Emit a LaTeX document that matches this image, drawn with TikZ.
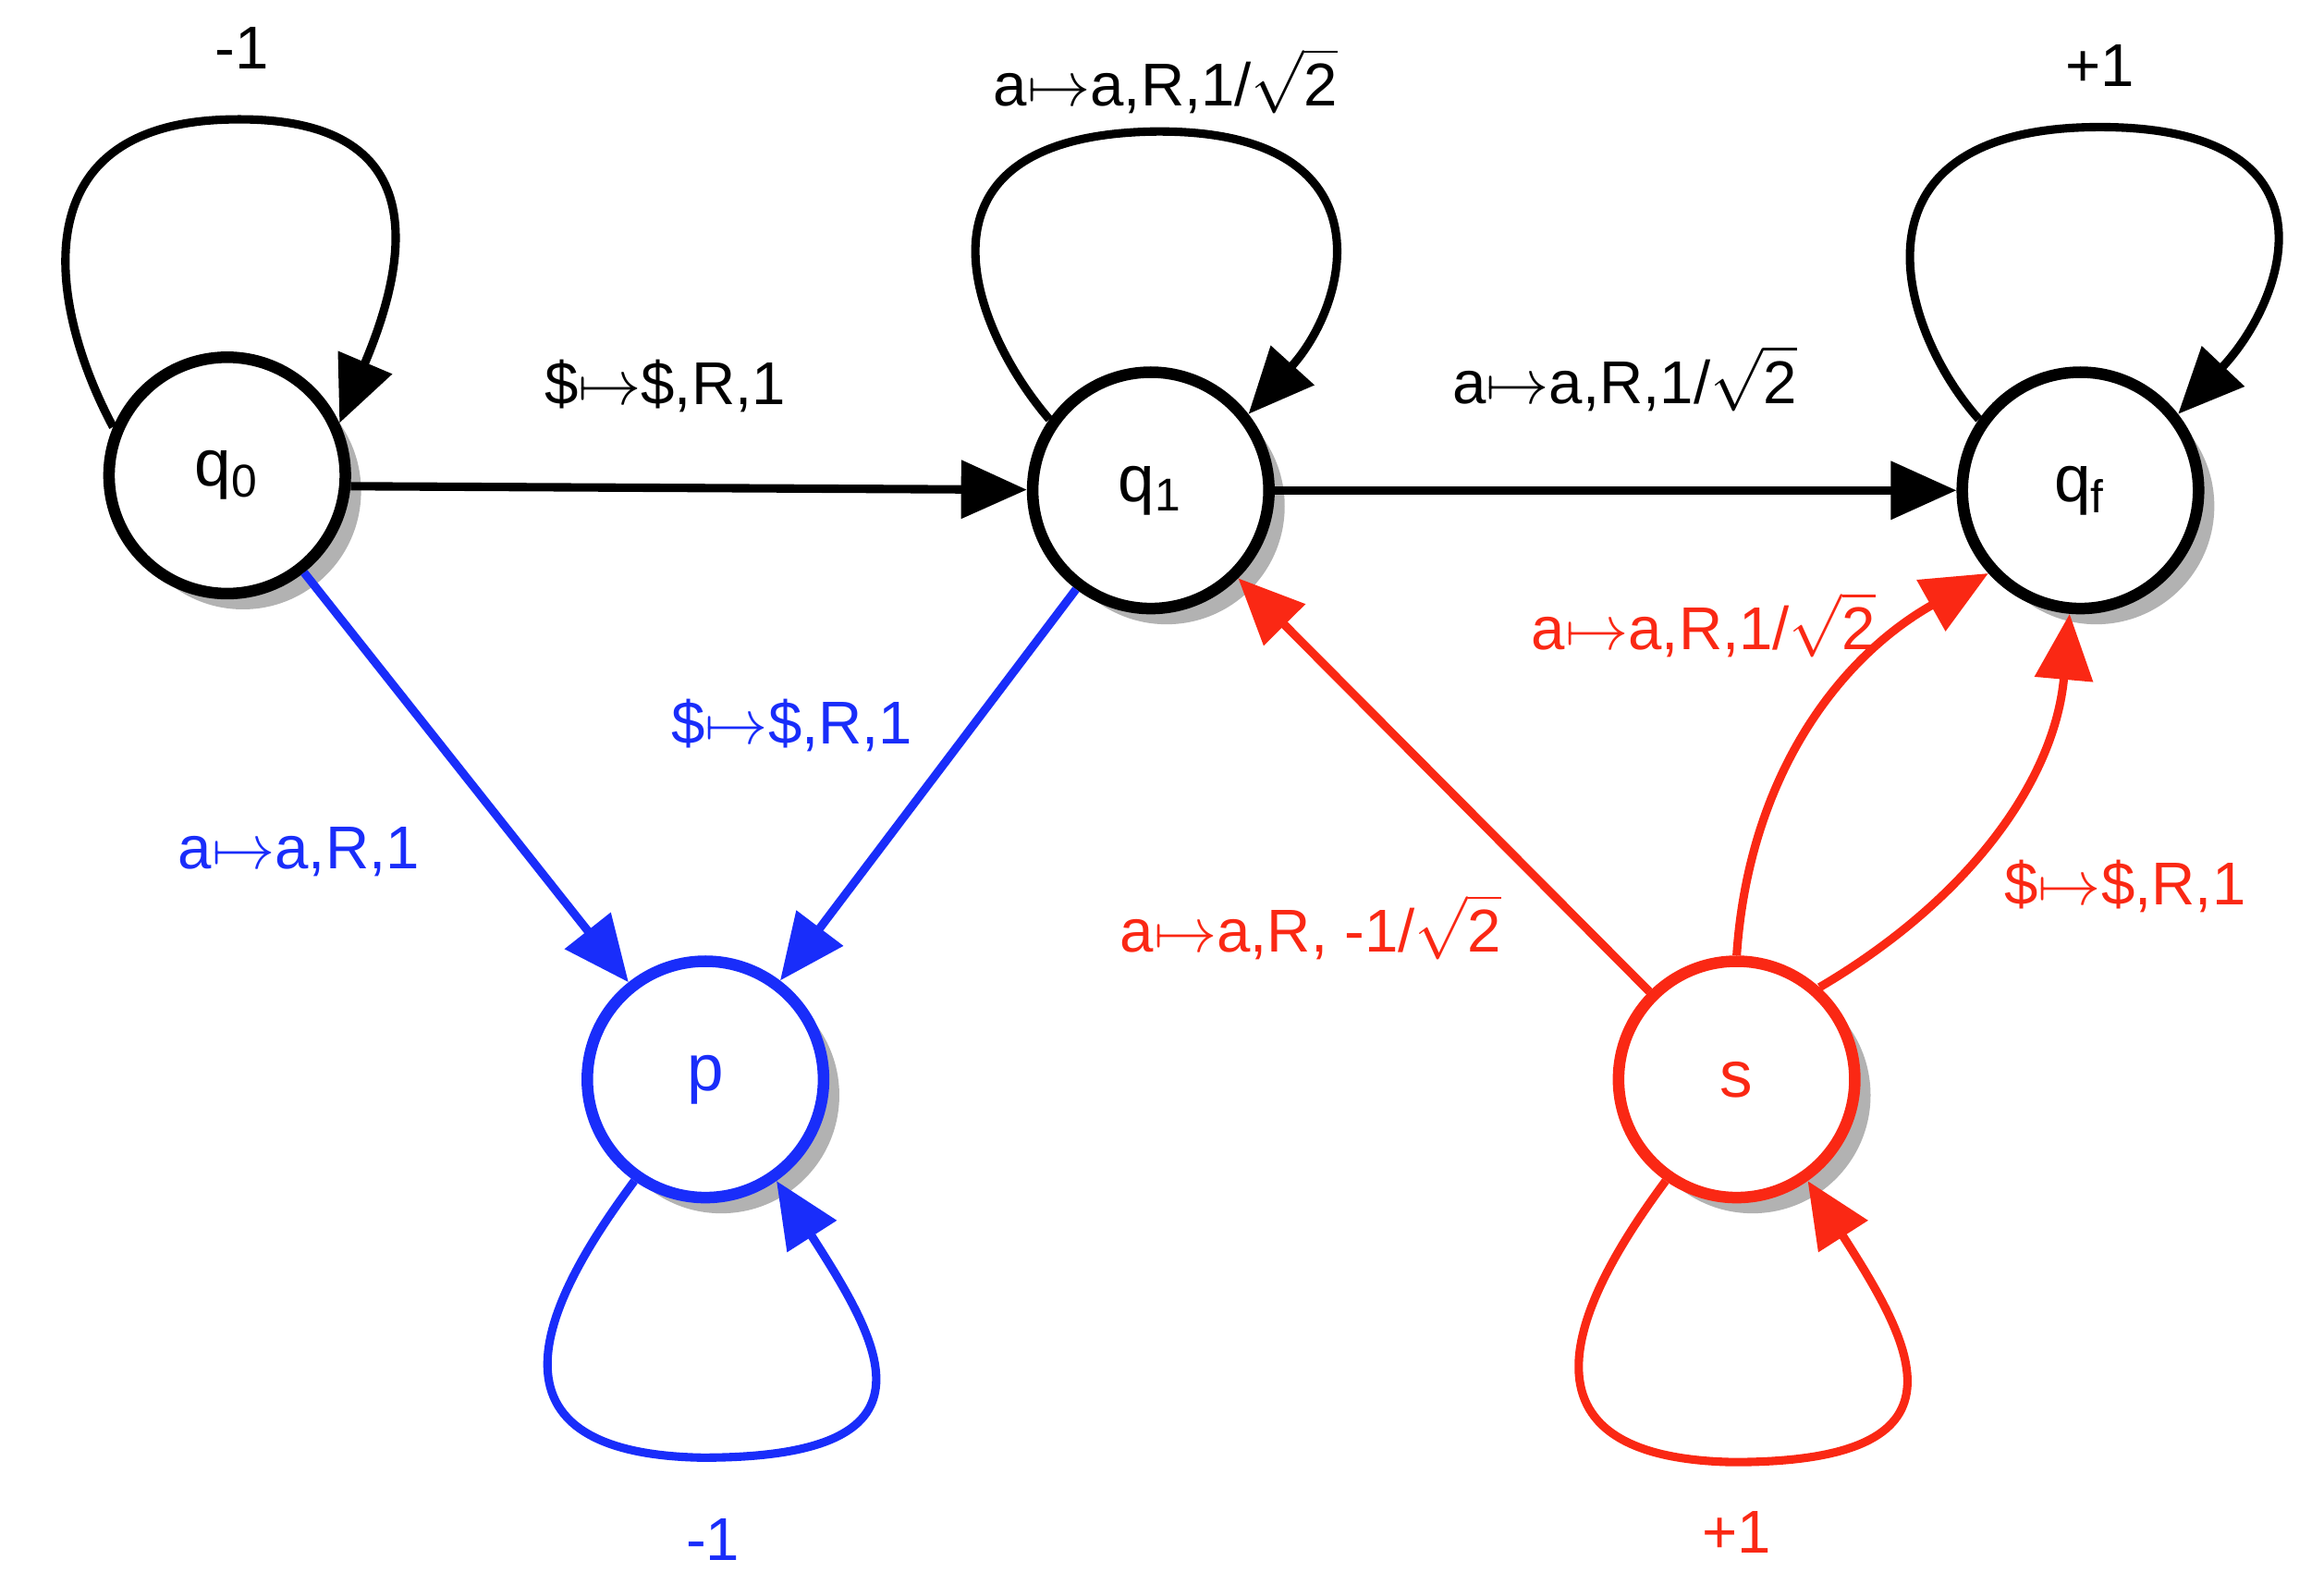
\documentclass[tikz,border=0pt]{standalone}
\usepackage{fontspec}
\setmainfont{Liberation Sans}
\usetikzlibrary{arrows.meta,shadows}
\definecolor{myblue}{RGB}{25,45,250}
\definecolor{myred}{RGB}{250,40,20}
\begin{document}
\begin{tikzpicture}[x=0.01cm,y=-0.01cm,
  st/.style={circle,draw,line width=2.2pt,minimum size=1.58cm,inner sep=0pt,fill=white,font=\fontsize{12.5}{15}\selectfont,
    drop shadow={shadow xshift=3pt,shadow yshift=-3pt,opacity=0.3,fill=black}},
  e/.style={line width=1.6pt,-{Triangle[length=0.44cm,width=0.38cm]}},
  lb/.style={font=\fontsize{11.5}{14}\selectfont}]
\useasboundingbox (0,0) rectangle (1555,1051);
\node[st] (q0) at (152,318) {q\textsubscript{0}};
\node[st] (q1) at (770,328) {q\textsubscript{1}};
\node[st] (qf) at (1392,328) {q\textsubscript{f}};
\node[st,draw=myblue,text=myblue] (p) at (472,722) {p};
\node[st,draw=myred,text=myred] (s) at (1162,722) {s};
% loops
\draw[e] (q0.157) .. controls (35,210) and (10,85) .. (150,80) .. controls (290,75) and (275,170) .. (q0.25);
\draw[e] (q1.145) .. controls (650,220) and (600,92) .. (770,88) .. controls (930,85) and (905,200) .. (q1.38);
\draw[e] (qf.145) .. controls (1270,220) and (1230,85) .. (1405,85) .. controls (1570,85) and (1530,200) .. (qf.38);
\draw[e,myblue] (p.235) .. controls (380,850) and (300,972) .. (470,975) .. controls (635,975) and (590,900) .. (p.-55);
\draw[e,myred] (s.235) .. controls (1070,850) and (990,975) .. (1160,978) .. controls (1325,978) and (1280,900) .. (s.-55);
\node[lb] (l1) at (162,32) {-1};
\node[lb] (l2) at (780,54) {a$\mapsto$a,R,1/$\sqrt{\mbox{2}}$};
\node[lb] (l3) at (1405,44) {+1};
\node[lb,myblue] (l4) at (477,1030) {-1};
\node[lb,myred] (l5) at (1162,1025) {+1};
% edges
\draw[e] (q0.-5) -- (q1);
\node[lb] (l6) at (445,258) {\$$\mapsto$\$,R,1};
\draw[e] (q1) -- (qf);
\node[lb] (l7) at (1087,253) {a$\mapsto$a,R,1/$\sqrt{\mbox{2}}$};
\draw[e,myblue] (q0) -- (p);
\node[lb,myblue] (l8) at (200,570) {a$\mapsto$a,R,1};
\draw[e,myblue] (q1) -- (p);
\node[lb,myblue] (l9) at (530,485) {\$$\mapsto$\$,R,1};
\draw[e,myred] (s) -- (q1);
\node[lb,myred] (l10) at (877,620) {a$\mapsto$a,R, -1/$\sqrt{\mbox{2}}$};
\draw[e,myred] (s.90) .. controls (1170,520) and (1230,440) .. (qf.222);
\node[lb,myred] (l11) at (1140,418) {a$\mapsto$a,R,1/$\sqrt{\mbox{2}}$};
\draw[e,myred] (s.48) .. controls (1320,600) and (1375,520) .. (qf.-95);
\node[lb,myred] (l12) at (1422,593) {\$$\mapsto$\$,R,1};
\end{tikzpicture}
\end{document}
